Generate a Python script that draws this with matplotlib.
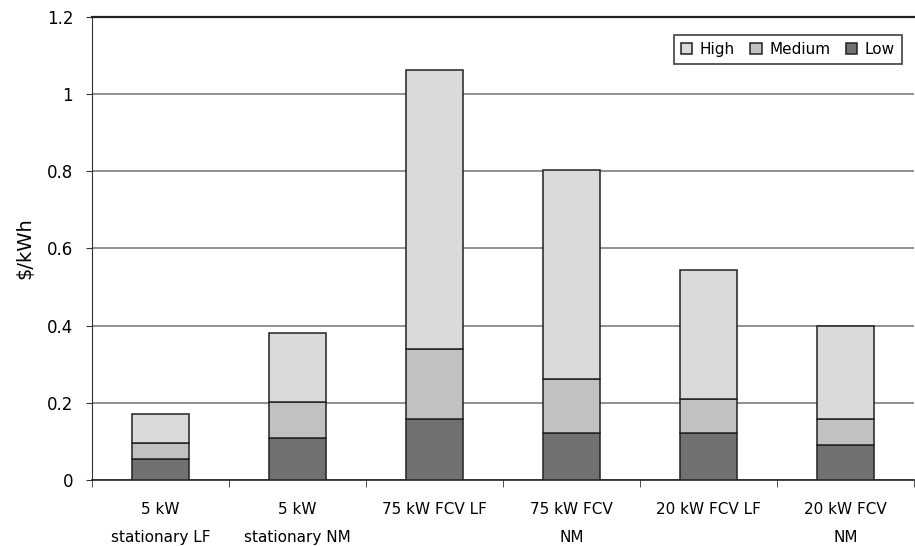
import matplotlib
matplotlib.use("Agg")
import matplotlib.pyplot as plt
import numpy as np
from matplotlib.ticker import FuncFormatter

categories = ["5 kW\nstationary LF", "5 kW\nstationary NM", "75 kW FCV LF",
              "75 kW FCV\nNM", "20 kW FCV LF", "20 kW FCV\nNM"]
# cumulative levels
low_level = [0.055, 0.108, 0.159, 0.123, 0.123, 0.090]
medium_level = [0.095, 0.201, 0.340, 0.262, 0.209, 0.158]
high_level = [0.170, 0.381, 1.061, 0.803, 0.545, 0.398]
y_ticks = [0, 0.2, 0.4, 0.6, 0.8, 1.0, 1.2]

plt.rcParams['font.family'] = ['DejaVu Sans']

fig = plt.figure(figsize=(9.15, 5.46), dpi=100)
ax = fig.add_axes([0.1005, 0.1209, 0.8985, 0.8485])

x = np.arange(len(categories))
low = np.array(low_level)
med = np.array(medium_level) - low
high = np.array(high_level) - np.array(medium_level)

w = 0.41
ec = "#222222"
b_low = ax.bar(x, low, w, color="#707173", edgecolor=ec, linewidth=1.1, zorder=3, label="Low")
b_med = ax.bar(x, med, w, bottom=low, color="#c0c1c3", edgecolor=ec, linewidth=1.1, zorder=3, label="Medium")
b_high = ax.bar(x, high, w, bottom=np.array(medium_level), color="#d9dadc", edgecolor=ec, linewidth=1.1, zorder=3, label="High")

ax.set_xlim(-0.5, len(categories) - 0.5)
ax.set_ylim(0, 1.2)
ax.set_yticks(y_ticks)
ax.yaxis.set_major_formatter(FuncFormatter(lambda v, p: "%g" % v))
ax.yaxis.grid(True, color="#888888", linewidth=1.3, zorder=0)
ax.set_axisbelow(True)

ax.set_xticks(x)
ax.set_xticklabels(categories, fontsize=11, linespacing=2.1)
ax.set_xticks(np.arange(-0.5, len(categories), 1.0), minor=True)
ax.tick_params(axis='x', which='major', length=0, pad=16)
ax.tick_params(axis='x', which='minor', length=5, color="#333333", direction='out')
ax.tick_params(axis='y', labelsize=12, length=4, color="#333333", direction='out', pad=9.5)

ax.spines['right'].set_visible(False)
ax.spines['top'].set_color("#222222")
ax.spines['top'].set_linewidth(1.6)
ax.spines['left'].set_color("#333333")
ax.spines['bottom'].set_color("#222222")
ax.spines['bottom'].set_linewidth(1.2)

ax.set_ylabel("\\$/kWh", fontsize=14, labelpad=9)

leg = ax.legend(handles=[b_high, b_med, b_low], labels=["High", "Medium", "Low"],
                ncol=3, loc="upper right", bbox_to_anchor=(0.985, 0.9605),
                fontsize=11, frameon=True, fancybox=False, edgecolor="#222222",
                handlelength=0.75, handleheight=0.75, handletextpad=0.5,
                columnspacing=1.0, borderpad=0.45, borderaxespad=0)
leg.get_frame().set_linewidth(1.3)

fig.savefig("out.png", dpi=100)
